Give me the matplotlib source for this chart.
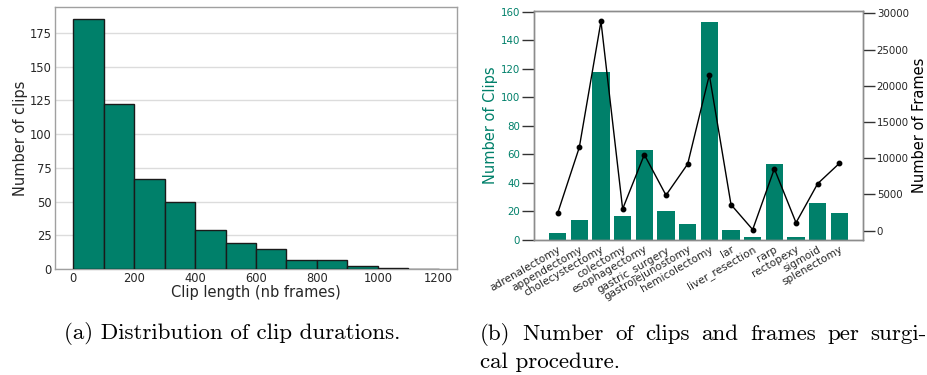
import numpy as np
import matplotlib.pyplot as plt

# ── Data ────────────────────────────────────────────────────────────────────
bin_edges = [0, 100, 200, 300, 400, 500, 600, 700, 800, 900, 1000, 1100, 1200]
bin_counts = [185, 122, 67, 50, 29, 19, 15, 7, 7, 2, 1, 0]

procedures = ["adrenalectomy", "appendectomy", "cholecystectomy", "colectomy",
              "esophagectomy", "gastric_surgery", "gastrojejunostomy",
              "hemicolectomy", "lar", "liver_resection", "rarp", "rectopexy",
              "sigmoid", "splenectomy"]
n_clips = [5, 14, 118, 17, 63, 20, 11, 153, 7, 2, 53, 2, 26, 19]
n_frames = [2400, 11500, 28900, 3000, 10500, 4900, 9200, 21500, 3600, 150,
            8550, 1100, 6500, 9300]

C_BAR = "#00806a"
C_SPINE = "#a0a0a0"
C_TEXT = "#262626"

fig = plt.figure(figsize=(9.28, 3.75), dpi=100)
W, H = 928, 375


def px_axes(x0, y0, x1, y1):
    return fig.add_axes([x0 / W, 1 - y1 / H, (x1 - x0) / W, (y1 - y0) / H])


# ── (a) Histogram of clip lengths ─────────────────────────────────────────────
ax1 = px_axes(55, 7, 457, 269)
ax1.hist(bin_edges[:-1], bins=bin_edges, weights=bin_counts, color=C_BAR,
         edgecolor="#1a1a1a", linewidth=1.0, zorder=3)
ax1.set_xlim(-60, 1260)
ax1.set_ylim(0, 194.25)
ax1.set_yticks([0, 25, 50, 75, 100, 125, 150, 175])
ax1.set_xticks([0, 200, 400, 600, 800, 1000, 1200])
ax1.grid(axis="y", color="#dcdcdc", lw=1.0, zorder=0)
ax1.set_axisbelow(True)
for s in ax1.spines.values():
    s.set_color(C_SPINE)
    s.set_linewidth(1.0)
ax1.tick_params(length=0, labelsize=8.3, colors=C_TEXT, pad=2.5)
ax1.set_xlabel("Clip length (nb frames)", fontsize=10.5, color=C_TEXT,
               labelpad=0)
ax1.set_ylabel("Number of clips", fontsize=10.5, color=C_TEXT)
ax1.yaxis.set_label_coords(-0.067, 0.5)

# ── (b) Clips and frames per procedure ───────────────────────────────────────
ax2 = px_axes(534, 11, 863, 240)
x = np.arange(len(procedures))
ax2.bar(x, n_clips, width=0.8, color=C_BAR, zorder=2)
ax2.set_xticks(x)
ax2.set_xticklabels(procedures, rotation=30, ha="right",
                    rotation_mode="anchor", fontsize=7.6, color=C_TEXT)
ax2.tick_params(axis="x", length=0, pad=3)
ax2.tick_params(axis="y", length=8.4, width=1.0, color="#333333",
                labelsize=7.4, labelcolor=C_BAR, pad=1.5)
ax2.set_yticks(range(0, 161, 20))
ax2.set_ylabel("Number of Clips", fontsize=10.5, color=C_BAR)
ax2.yaxis.set_label_coords(-0.109, 0.5)

ax3 = ax2.twinx()
ax3.plot(x, n_frames, color="black", lw=1.0, marker="o", markersize=3.2,
         zorder=4)
ax3.set_yticks(range(0, 30001, 5000))
ax3.tick_params(axis="y", length=8.4, width=1.0, color="#333333",
                labelsize=7.4, labelcolor=C_TEXT, pad=1.5)
ax3.set_ylabel("Number of Frames", fontsize=10.5, color="black")
ax3.yaxis.set_label_coords(1.148, 0.5)

for a in (ax2, ax3):
    for s in a.spines.values():
        s.set_color("#8c8c8c")
        s.set_linewidth(1.0)

# ── Captions (LaTeX-like, line 1 of (b) justified) ───────────────────────────
cap = dict(family="cmr10", fontsize=16.6, color="black", va="baseline")
fig.text(232 / W, 1 - 339 / H, "(a) Distribution of clip durations.",
         ha="center", **cap)

words = "(b) Number of clips and frames per surgi-".split()
renderer = fig.canvas.get_renderer()
texts = [fig.text(0, 1 - 340 / H, w, **cap) for w in words]
widths = [t.get_window_extent(renderer).width for t in texts]
x0, x1 = 480, 927
gap = (x1 - x0 - sum(widths)) / (len(words) - 1)
pos = x0
for t, w in zip(texts, widths):
    t.set_x(pos / W)
    pos += w + gap
fig.text(480 / W, 1 - 368 / H, "cal procedure.", **cap)

fig.savefig("out.png", dpi=100)
